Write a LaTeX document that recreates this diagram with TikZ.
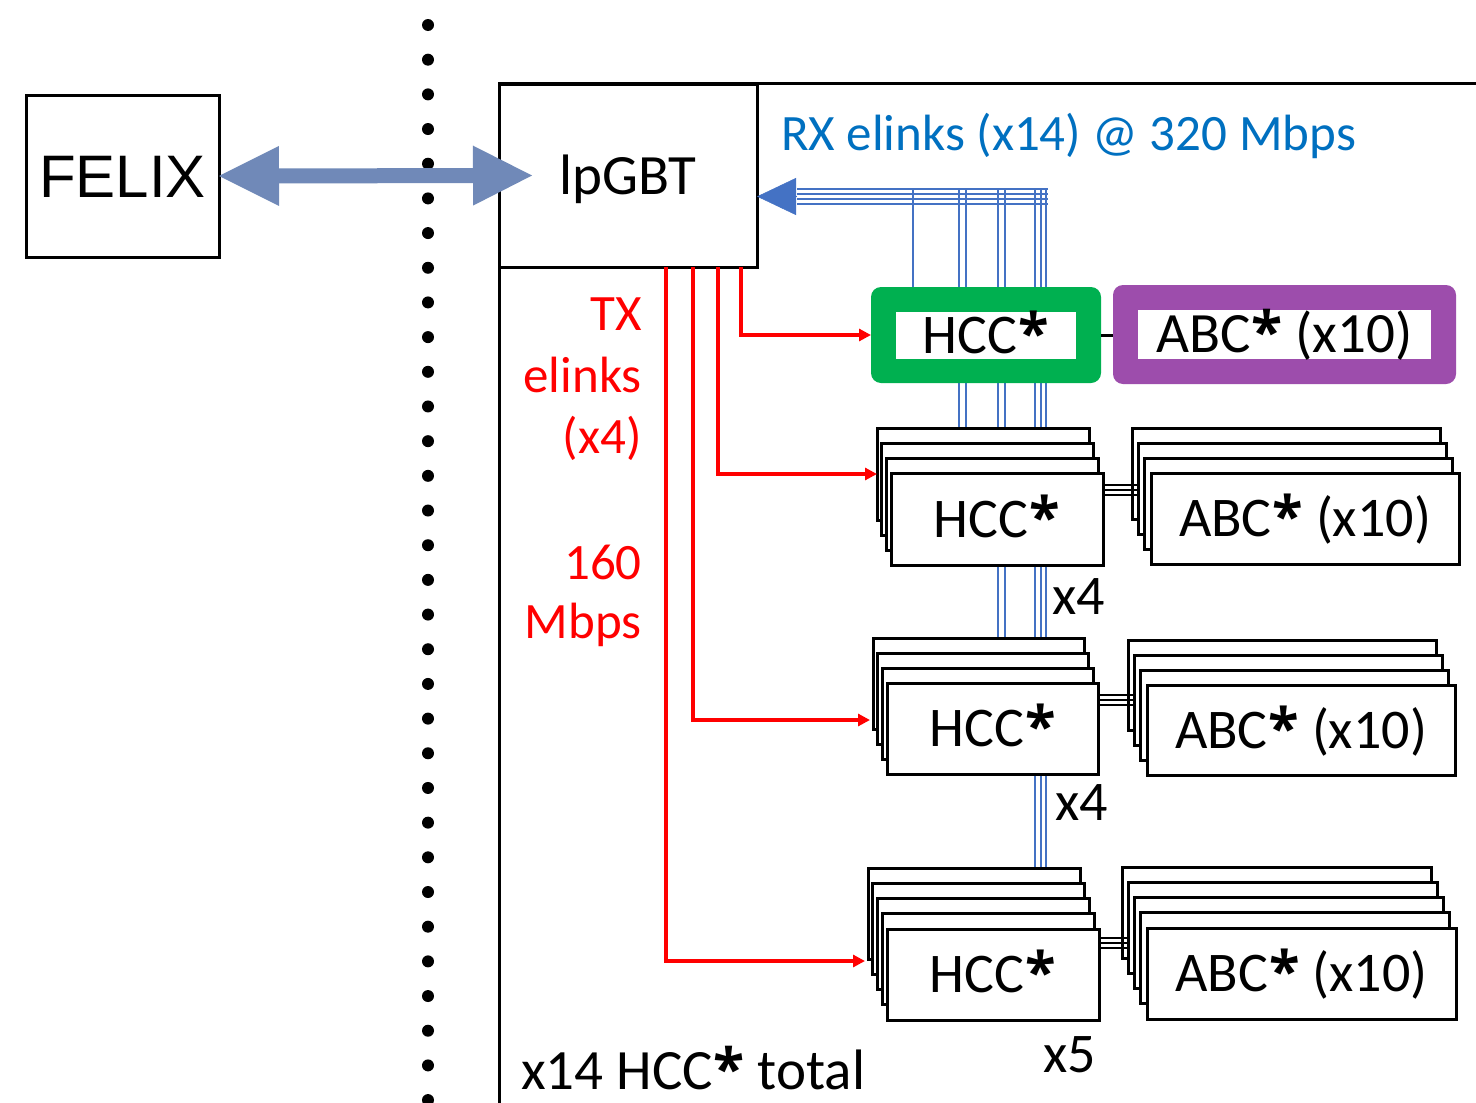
\documentclass[tikz,border=0pt]{standalone}
\usepackage{fontspec}
\usepackage{graphicx}
\setmainfont{Carlito}
\newfontfamily\felixfont{Liberation Sans}
\newfontfamily\astfont{Open Sans}
\usetikzlibrary{arrows.meta,calc}
\definecolor{felixblue}{RGB}{112,137,184}
\definecolor{rxblue}{RGB}{68,114,196}
\definecolor{txtblue}{RGB}{0,112,192}
\definecolor{hccgreen}{RGB}{0,176,80}
\definecolor{abcpurple}{RGB}{157,77,172}
\newcommand\setfs[1]{\fontsize{#1}{#1}\selectfont}
\newcommand\bigast{\kern0.02em{\astfont\bfseries *}}
\begin{document}
\begin{tikzpicture}[x=1pt,y=-1pt,
  plain/.style={draw=black,line width=3pt,fill=white,inner sep=0pt,outer sep=0pt,anchor=north west},
  boxtext/.style={font=\setfs{56pt},text height=36pt,text depth=0pt,inner sep=0pt},
  rxline/.style={rxblue,line width=2pt},
  txline/.style={red,line width=3.5pt,-{Triangle[length=12pt,width=12pt]}},
  pairline/.style={black,line width=1.8pt},
  redtext/.style={red,font=\setfs{51pt},anchor=base east,inner sep=0pt},
  blacktext/.style={black,font=\setfs{56pt},anchor=base west,inner sep=0pt}]
\useasboundingbox (0,0) rectangle (1476,1103);
\fill[white] (0,0) rectangle (1476,1103);

% dotted separator
\foreach \i in {0,...,31} \fill[black] (428,{25+\i*34.68}) circle[radius=6pt];

% outer frame
\draw[black,line width=3pt] (499,1106) -- (499,83) -- (1480,83);

% FELIX and lpGBT
\node[plain,minimum width=193pt,minimum height=162pt,font=\felixfont\setfs{60pt},text height=43pt,text depth=0pt] (felix) at (26,95) {FELIX};
\node[plain,minimum width=258pt,minimum height=183pt,font=\setfs{57pt},text height=37pt,text depth=0pt] (lp) at (499,84) {lpGBT};

% RX line start points
\coordinate (b1) at (913,188);
\coordinate (b2a) at (959,188);
\coordinate (b2b) at (966,188);
\coordinate (b3a) at (998,188);
\coordinate (b3b) at (1005,188);
\coordinate (b4a) at (1035,188);
\coordinate (b4b) at (1041,188);
\coordinate (b4c) at (1046,188);

% stacks
\foreach \i in {1,...,4} \node[plain,minimum width=212pt,minimum height=92pt] (hs1-\i) at ({877+(\i-1)*4.67},{428+(\i-1)*15}) {};
\foreach \i in {1,...,4} \node[plain,minimum width=308pt,minimum height=91pt] (as1-\i) at ({1132+(\i-1)*6.33},{428+(\i-1)*15}) {};
\foreach \i in {1,...,4} \node[plain,minimum width=211pt,minimum height=91pt] (hs2-\i) at ({873+(\i-1)*4.67},{638+(\i-1)*15}) {};
\foreach \i in {1,...,4} \node[plain,minimum width=308pt,minimum height=90pt] (as2-\i) at ({1128+(\i-1)*6.33},{640+(\i-1)*15}) {};
\foreach \i in {1,...,5} \node[plain,minimum width=212pt,minimum height=91pt] (hs3-\i) at ({868+(\i-1)*4.75},{868+(\i-1)*15.25}) {};
\foreach \i in {1,...,5} \node[plain,minimum width=309pt,minimum height=91pt] (as3-\i) at ({1122+(\i-1)*6.25},{867+(\i-1)*15.25}) {};

% RX verticals
\draw[rxline] (b1) -- (913,287);
\draw[rxline] (b2a) -- (b2a |- hs1-1.north);
\draw[rxline] (b2b) -- (b2b |- hs1-1.north);
\draw[rxline] (b3a) -- (b3a |- hs2-1.north);
\draw[rxline] (b3b) -- (b3b |- hs2-1.north);
\draw[rxline] (b4a) -- (b4a |- hs3-1.north);
\draw[rxline] (b4b) -- (b4b |- hs3-1.north);
\draw[rxline] (b4c) -- (b4c |- hs3-1.north);

% redraw HCC stacks on top of the lines
\foreach \i in {1,...,4} \node[plain,minimum width=212pt,minimum height=92pt] at ({877+(\i-1)*4.67},{428+(\i-1)*15}) {};
\foreach \i in {1,...,4} \node[plain,minimum width=211pt,minimum height=91pt] at ({873+(\i-1)*4.67},{638+(\i-1)*15}) {};
\foreach \i in {1,...,5} \node[plain,minimum width=212pt,minimum height=91pt] at ({868+(\i-1)*4.75},{868+(\i-1)*15.25}) {};

% front texts
\node[boxtext] (h1t) at (hs1-4.center) {HCC\bigast};
\node[boxtext] (a1t) at (as1-4.center) {ABC\bigast{} (x10)};
\node[boxtext] (h2t) at (hs2-4.center) {HCC\bigast};
\node[boxtext] (a2t) at (as2-4.center) {ABC\bigast{} (x10)};
\node[boxtext] (h3t) at (hs3-5.center) {HCC\bigast};
\node[boxtext] (a3t) at (as3-5.center) {ABC\bigast{} (x10)};

% HCC-ABC links in stacks
\foreach \o in {12,17,22} {
  \coordinate (l1) at ($(hs1-4.north east)+(0,\o)$);
  \draw[pairline] (l1) -- (l1 -| as1-2.west);
  \coordinate (l2) at ($(hs2-4.north east)+(0,\o)$);
  \draw[pairline] (l2) -- (l2 -| as2-2.west);
  \coordinate (l3) at ($(hs3-5.north east)+(0,{\o-3})$);
  \draw[pairline] (l3) -- (l3 -| as3-2.west);
}

% green and purple boxes
\node[fill=hccgreen,rounded corners=10pt,inner sep=0pt,outer sep=0pt,anchor=north west,minimum width=230pt,minimum height=96pt] (hccg) at (871,287) {};
\node[boxtext,fill=white,outer sep=0pt,minimum width=180pt,minimum height=47pt] (hccgin) at (hccg.center) {HCC\bigast};
\node[fill=abcpurple,rounded corners=10pt,inner sep=0pt,outer sep=0pt,anchor=north west,minimum width=343pt,minimum height=99pt] (abcp) at (1113,285) {};
\node[boxtext,fill=white,outer sep=0pt,minimum width=293pt,minimum height=49pt,font=\setfs{57pt}] (abcpin) at (abcp.center) {ABC\bigast{} (x10)};
\draw[black,line width=3pt] (hccg.east) -- (hccg.east -| abcp.west);

% RX band and arrow
\foreach \yy in {188.5,193.5,198.5,203.5} \draw[rxline] (1048,\yy) -- (797,\yy);
\coordinate (rxhead) at (797,196.5);
\draw[rxblue,line width=0.5pt,-{Triangle[length=39pt,width=37pt]}] (rxhead) -- (rxhead -| lp.east);

% TX red lines
\coordinate (t1) at (741,267);
\coordinate (t2) at (718,267);
\coordinate (t3) at (693,267);
\coordinate (t4) at (666,267);
\coordinate (a2) at (870,720);
\coordinate (a3) at (865,961);
\draw[txline] (t1) |- (hccg.west);
\draw[txline] (t2) |- (hs1-1.west);
\draw[txline] (t3) |- (a2);
\draw[txline] (t4) |- (a3);

% FELIX <-> lpGBT
\coordinate (ftip) at ($(lp.west)+(33,0)$);
\draw[felixblue,line width=15pt,{Triangle[length=60pt,width=60pt,line width=0pt]}-{Triangle[length=59pt,width=60pt,line width=0pt]}] (felix.east) -- (ftip);

% labels
\node[txtblue,font=\setfs{51pt},anchor=base west,inner sep=0pt] (rxlab) at (781,150) {RX elinks (x14) @ 320 Mbps};
\node[redtext] (tx1) at (642,330) {TX};
\node[redtext] (tx2) at (642,392) {elinks};
\node[redtext] (tx3) at (642,453) {(x4)};
\node[redtext] (tx4) at (642,579) {160};
\node[redtext] (tx5) at (642,638) {Mbps};
\node[blacktext] (m1) at (1052,614) {x4};
\node[blacktext] (m2) at (1055,820) {x4};
\node[blacktext] (m3) at (1043,1072) {x5};
\node[blacktext,font=\setfs{57pt}] (tot) at (521,1089) {x14 HCC\bigast{} total};
\end{tikzpicture}
\end{document}
